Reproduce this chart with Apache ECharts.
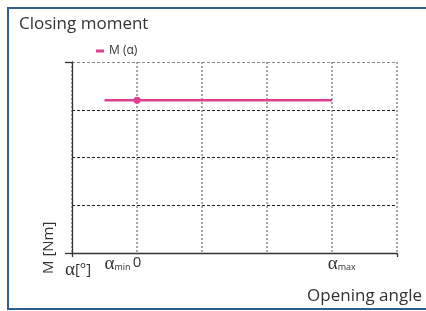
<!DOCTYPE html>
<html><head><meta charset="utf-8">
<script src="https://cdn.jsdelivr.net/npm/echarts@6/dist/echarts.min.js"></script>
<style>html,body{margin:0;padding:0;background:#fff}#c{width:426px;height:311px}</style>
</head><body><div id="c"></div>
<script>
const titleText = 'Closing moment';
const xAxisTitle = 'Opening angle';
const yAxisTitle = 'M [Nm]';
const seriesName = 'M (α)';
// line: from alpha_min to alpha_max at constant moment
const angleValues = [-0.5, 0, 3];
const momentValues = [3.2, 3.2, 3.2];
const markerIndex = 1;
// x tick label positions and texts
const xLabelValues = [-0.3, 0, 3.15];
const xLabelTexts = ['{g|α}{s|min}', '{n|0}', '{g|α}{s|max}'];

const chart = echarts.init(document.getElementById('c'), null, {renderer: 'canvas'});
const F = 'Open Sans';
const axisCol = '#333';
chart.setOption({
  animation: false,
  title: {text: titleText, left: 14, top: 11, textStyle: {fontFamily: F, fontSize: 17, fontWeight: 'normal', color: '#333'}},
  legend: {data: [seriesName], left: 91, top: 40, icon: 'rect', itemWidth: 8, itemHeight: 3, itemGap: 4,
    textStyle: {fontFamily: F, fontSize: 12, color: '#333'}},
  grid: {left: 72, right: 29, top: 62, bottom: 58},
  xAxis: [{type: 'value', min: -1, max: 4, interval: 1,
    axisLine: {show: true, onZero: false, lineStyle: {color: axisCol, width: 1.3}},
    axisTick: {show: false},
    axisLabel: {show: true, customValues: xLabelValues, margin: 2,
      formatter: v => { const i = xLabelValues.findIndex(x => Math.abs(x - v) < 1e-6); return i >= 0 ? xLabelTexts[i] : ''; },
      rich: {
        g: {fontFamily: 'Liberation Serif', fontSize: 19, color: '#333', verticalAlign: 'bottom'},
        s: {fontFamily: F, fontSize: 9, color: '#333', padding: [6, 0, 0, 0]},
        n: {fontFamily: F, fontSize: 15, color: '#333'}
      }},
    splitLine: {show: true, lineStyle: {color: '#8a8a8a', width: 1.5, type: [2, 2]}}
  }, {type: 'value', min: -1, max: 4, interval: 5, position: 'bottom',
    axisLine: {show: false, onZero: false},
    axisTick: {show: true, length: 4, lineStyle: {color: axisCol, width: 1.3}},
    axisLabel: {show: false}, splitLine: {show: false}
  }],
  yAxis: [{type: 'value', min: 0, max: 4, interval: 1,
    axisLine: {show: true, onZero: false, lineStyle: {color: axisCol, width: 1.3}},
    axisTick: {show: false},
    axisLabel: {show: false},
    splitLine: {show: true, lineStyle: {color: ['#222', '#222', '#222', '#222', '#8a8a8a'], width: 1, type: [3, 2]}}
  }, {type: 'value', min: 0, max: 4, interval: 4, position: 'left',
    axisLine: {show: false, onZero: false},
    axisTick: {show: true, length: 7, lineStyle: {color: axisCol, width: 1.3}},
    axisLabel: {show: false}, splitLine: {show: false}
  }],
  series: [{
    name: seriesName, type: 'line',
    data: angleValues.map((a, i) => ({value: [a, momentValues[i]], symbol: i === markerIndex ? 'circle' : 'none'})),
    symbolSize: 7, showSymbol: true,
    itemStyle: {color: '#df3f8e'},
    lineStyle: {color: '#df3f8e', width: 2.5}
  }],
  graphic: [
    {type: 'rect', shape: {x: 8, y: 8, width: 430, height: 301}, style: {fill: 'none', stroke: '#2f5f8a', lineWidth: 2}, silent: true},
    {type: 'text', x: 422, y: 296, style: {text: xAxisTitle, font: '17px "Open Sans"', fill: '#333', textAlign: 'right', textVerticalAlign: 'middle'}},
    {type: 'text', x: 49, y: 274, rotation: Math.PI / 2, style: {text: yAxisTitle, font: '15px "Open Sans"', fill: '#333', textAlign: 'left', textVerticalAlign: 'middle'}},
    {type: 'text', x: 65, y: 270, style: {text: '{g|α}{b|[°]}', textVerticalAlign: 'middle', rich: {
      g: {fontFamily: 'Liberation Serif', fontSize: 19, fill: '#333'},
      b: {fontFamily: F, fontSize: 15, fill: '#333'}}}}
  ]
});
</script></body></html>
